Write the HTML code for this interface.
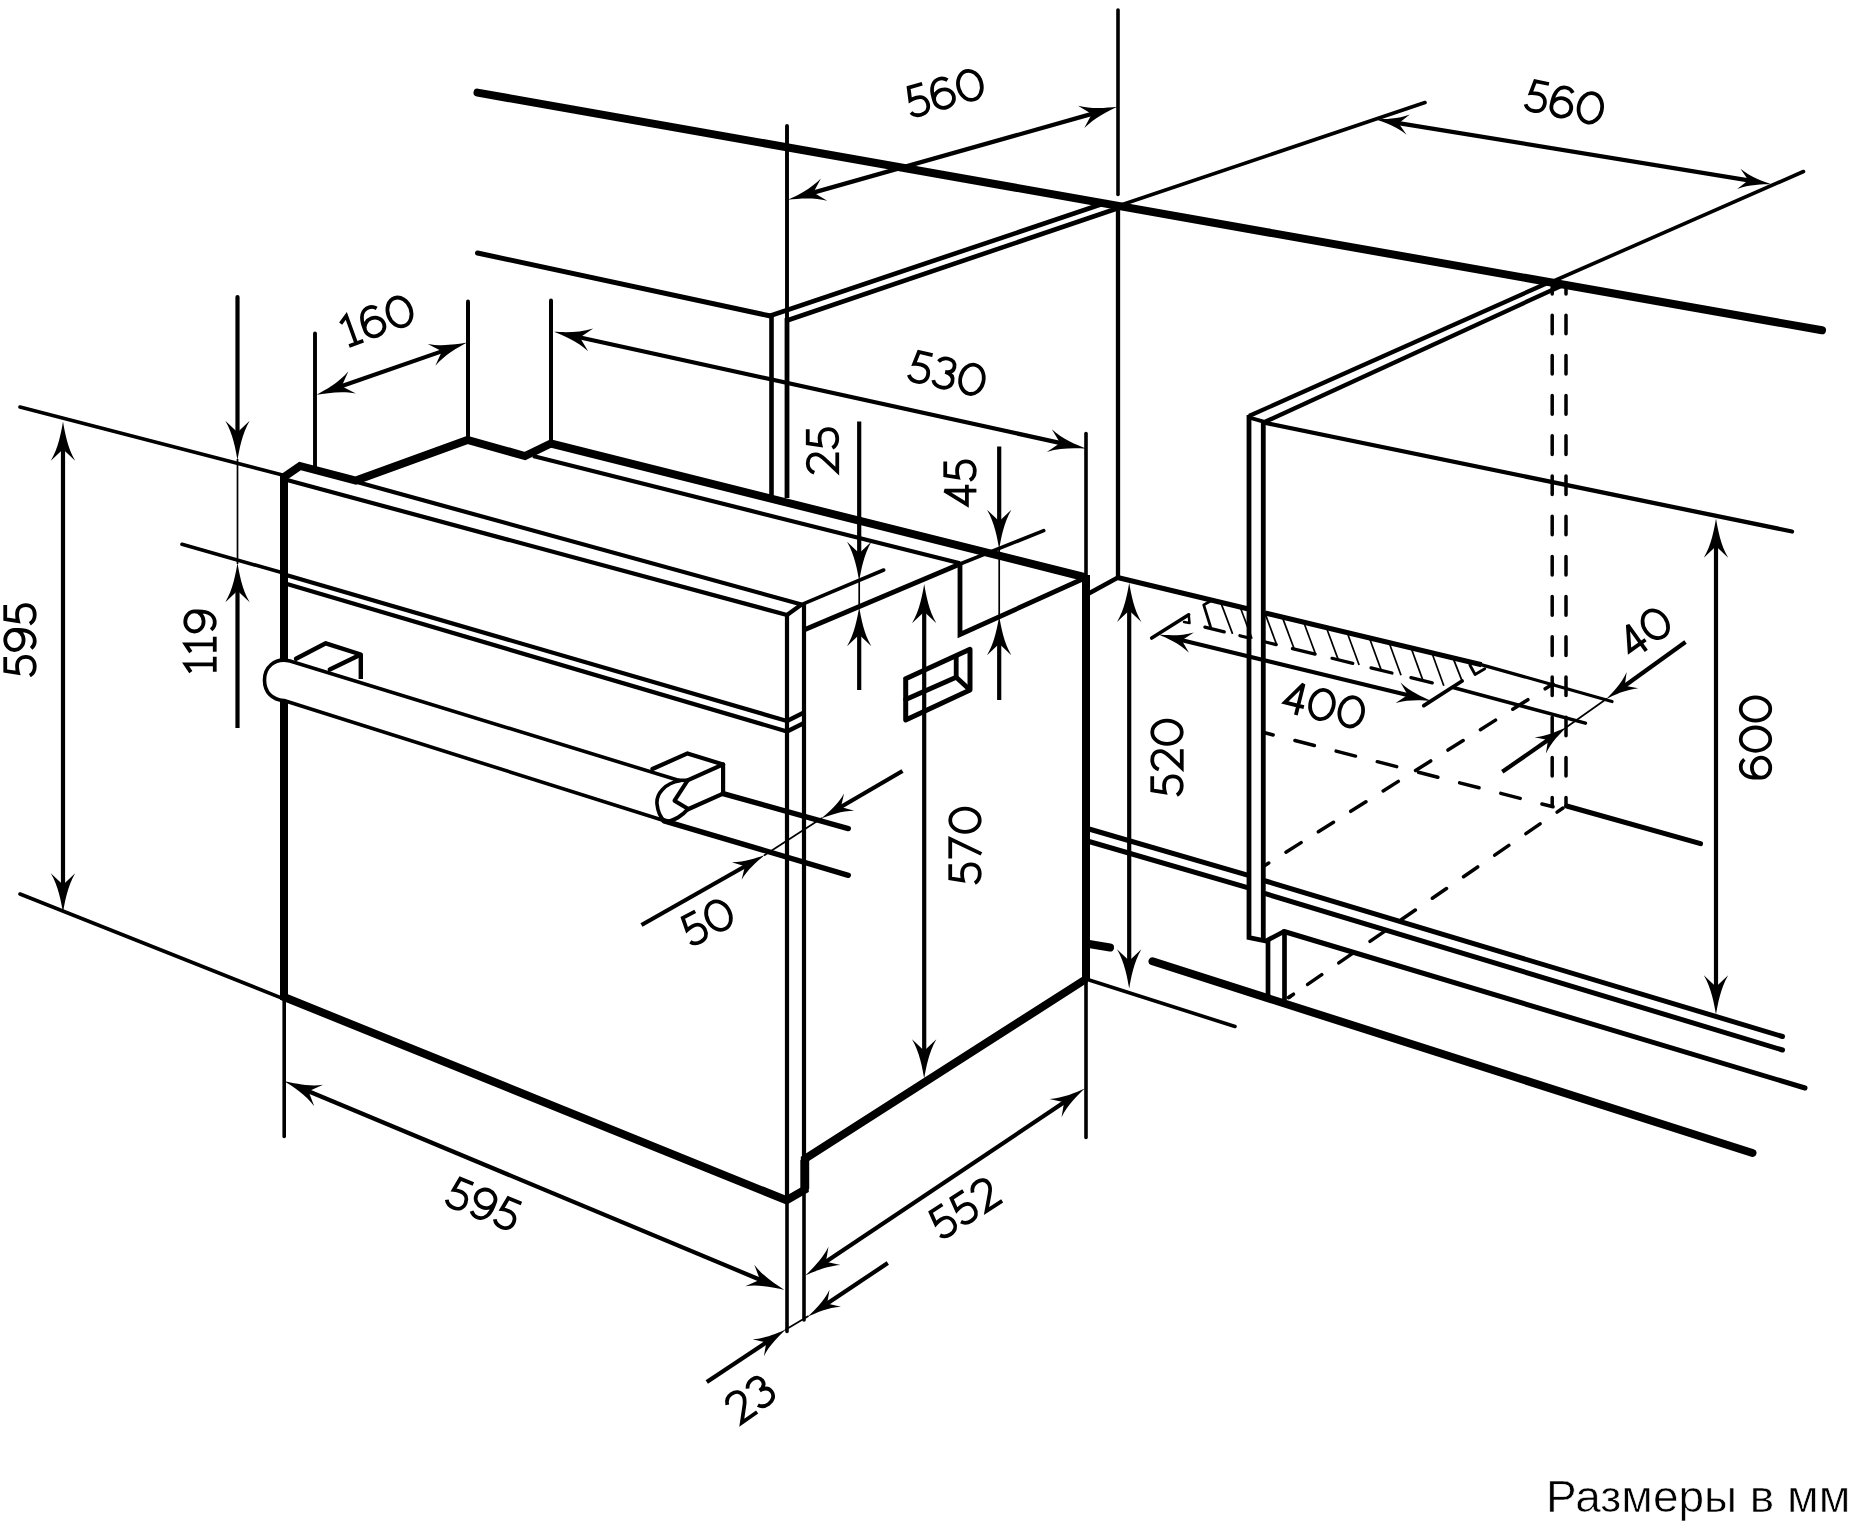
<!DOCTYPE html>
<html lang="ru"><head><meta charset="utf-8"><title>Oven built-in dimensions</title>
<style>
html,body{margin:0;padding:0;background:#fff;}
body{width:1850px;height:1528px;overflow:hidden;font-family:"Liberation Sans",sans-serif;}
svg{display:block}
svg path{fill:none;stroke:#000}
svg path.a{fill:#000;stroke:none}
svg text{font-family:"Liberation Sans",sans-serif;fill:#000;stroke:#fff;stroke-width:0.4px;}
</style></head><body>
<svg width="1850" height="1528" viewBox="0 0 1850 1528">
<rect width="1850" height="1528" fill="#fff"/>
<path d="M477.5,92.6 L1822,330.3" stroke-width="8.0" stroke-linecap="round"/>
<path d="M477.5,253 L769.5,315.8" stroke-width="5" stroke-linecap="round"/>
<path d="M769.5,316 L1108,202" stroke-width="4.6"/>
<path d="M787,320.5 L1117,208.5" stroke-width="4.6"/>
<path d="M771.5,316 L771.5,497" stroke-width="4.6"/>
<path d="M787,126 L787,320" stroke-width="3.9" stroke-linecap="round"/>
<path d="M787,318 L787,498" stroke-width="4.8"/>
<path d="M1118,10 L1118,194.5" stroke-width="3.6" stroke-linecap="round"/>
<path d="M1118,203 L1118,577.5" stroke-width="4.3"/>
<path d="M1118,206 L1425,102.5" stroke-width="3.6" stroke-linecap="round"/>
<path d="M1552.5,281.5 L1803.5,171.5" stroke-width="3.6" stroke-linecap="round"/>
<path d="M1552,281 L1249,416" stroke-width="4.3"/>
<path d="M1561,286 L1263.5,422.5" stroke-width="4.3"/>
<path d="M1249,415 L1249,937.5 L1266,941 L1284,931.5" stroke-width="4.8"/>
<path d="M1263.3,421 L1263.3,941" stroke-width="4.8"/>
<path d="M1248.6,417.3 L1263.5,421.6" stroke-width="3.8"/>
<path d="M1284,931.5 L1805,1088" stroke-width="5" stroke-linecap="round"/>
<path d="M1268,941 L1268,996" stroke-width="4.7"/>
<path d="M1284.5,931 L1284.5,1002.5" stroke-width="4.7"/>
<path d="M1263.5,422.5 L1792,531.5" stroke-width="4.3" stroke-linecap="round"/>
<path d="M1552.2,285 L1552.2,294" stroke-width="3.5" stroke-linecap="round"/>
<path d="M1552.2,315.2 L1552.2,806" stroke-width="3.5" stroke-linecap="round" stroke-dasharray="18.6 21.6"/>
<path d="M1566,285 L1566,294" stroke-width="3.5" stroke-linecap="round"/>
<path d="M1566,315.2 L1566,806" stroke-width="3.5" stroke-linecap="round" stroke-dasharray="18.6 21.6"/>
<path d="M1089,829 L1247.5,875.2" stroke-width="5"/>
<path d="M1089,841.5 L1247.5,887.7" stroke-width="5"/>
<path d="M1265.5,881 L1782.5,1036.5" stroke-width="5" stroke-linecap="round"/>
<path d="M1265.5,893.7 L1782.5,1050" stroke-width="5" stroke-linecap="round"/>
<path d="M1086,595 L1118,577.5" stroke-width="4.3"/>
<path d="M1117.5,577.5 L1247.5,608.7" stroke-width="5.1"/>
<path d="M1265,612.9 L1481.6,664.8" stroke-width="5.1"/>
<path d="M1481,664.6 L1612,701.5" stroke-width="3.2" stroke-linecap="round"/>
<path d="M1086,979 L1235,1026.5" stroke-width="3.6" stroke-linecap="round"/>
<path d="M1086,979 L1086,1137.5" stroke-width="3.6" stroke-linecap="round"/>
<path d="M1086,433.5 L1086,577.5" stroke-width="3.6" stroke-linecap="round"/>
<path d="M1566.7,806 L1700.5,843.7" stroke-width="5" stroke-linecap="round"/>
<path d="M1089,944 L1110,947.5" stroke-width="8.0" stroke-linecap="round"/>
<path d="M1152.5,961.3 L1752.5,1153" stroke-width="8.0" stroke-linecap="round"/>
<path d="M1263.7,732.5 L1553,806.8" stroke-width="3.5" stroke-linecap="round" stroke-dasharray="20 22.5" stroke-dashoffset="10.2"/>
<path d="M1263.7,866.2 L1553,683.9" stroke-width="3.5" stroke-linecap="round" stroke-dasharray="17.9 20.4" stroke-dashoffset="12"/>
<path d="M1288.7,997.5 L1563,808" stroke-width="3.5" stroke-linecap="round" stroke-dasharray="17.2 20.7" stroke-dashoffset="14.9"/>
<path d="M1288.7,997.5 L1293.5,994.2" stroke-width="3.5" stroke-linecap="round"/>
<path d="M1212.4,600 L1203.7,604.9 L1210.5,626.7" stroke-width="2.8" stroke-linecap="round" stroke-linejoin="round"/>
<path d="M1221.1,603.343 L1232.6,633.898" stroke-width="1.7"/>
<path d="M1240.5,607.995 L1252,638.658" stroke-width="1.7"/>
<path d="M1265.2,613.918 L1276.7,644.72" stroke-width="1.7"/>
<path d="M1282.7,618.115 L1294.2,649.014" stroke-width="1.7"/>
<path d="M1304.1,623.247 L1315.6,654.266" stroke-width="1.7"/>
<path d="M1326.8,628.69 L1338.3,659.836" stroke-width="1.7"/>
<path d="M1347.6,633.678 L1359.1,664.941" stroke-width="1.7"/>
<path d="M1369.8,639.002 L1381.3,670.389" stroke-width="1.7"/>
<path d="M1389.5,643.726 L1401,675.223" stroke-width="1.7"/>
<path d="M1411.5,649.001 L1423,680.622" stroke-width="1.7"/>
<path d="M1432.3,653.989 L1443.8,685.726" stroke-width="1.7"/>
<path d="M1453,657.953 L1462.1,681" stroke-width="1.8"/>
<path d="M1204.9,627.1 L1224.3,631.861" stroke-width="3.2" stroke-linecap="round"/>
<path d="M1239.9,635.689 L1247,637.431" stroke-width="3.2" stroke-linecap="round"/>
<path d="M1265.5,641.971 L1276.2,644.597" stroke-width="3.2" stroke-linecap="round"/>
<path d="M1292.4,648.572 L1315.1,654.143" stroke-width="3.2" stroke-linecap="round"/>
<path d="M1332,658.29 L1352.8,663.395" stroke-width="3.2" stroke-linecap="round"/>
<path d="M1371,667.861 L1392,673.014" stroke-width="3.2" stroke-linecap="round"/>
<path d="M1410.9,677.652 L1432.3,682.904" stroke-width="3.2" stroke-linecap="round"/>
<path d="M1469.9,665 L1475.1,674.5 L1484.8,668.7" stroke-width="2.8" stroke-linecap="round" stroke-linejoin="round"/>
<path d="M284,476 L284,997" stroke-width="8.0"/>
<path d="M284,477 L300,466 L355.8,480.6 L467.5,440 L525,456 L551,443.5 L1086,577.5" stroke-width="8.0"/>
<path d="M1086,575 L1086,980" stroke-width="8.0"/>
<path d="M284,995 L284,997 L786.5,1200.3 L804.8,1189.8 L804.8,1159 L1086,979" stroke-width="8.0"/>
<path d="M804.8,1160 L804.8,1189" stroke-width="8.8"/>
<path d="M287,480 L787,615" stroke-width="4.2"/>
<path d="M357,482 L801.5,604.5" stroke-width="4.2"/>
<path d="M787,615 L801.5,604.5" stroke-width="4.2"/>
<path d="M787,614 L787,1200" stroke-width="4.2"/>
<path d="M787,1199 L787,1331.5" stroke-width="3.6" stroke-linecap="round"/>
<path d="M804,604 L804,1192" stroke-width="4.2"/>
<path d="M804,1191 L804,1320" stroke-width="3.6" stroke-linecap="round"/>
<path d="M533,456 L960,563.3" stroke-width="4.2"/>
<path d="M805,629.5 L960,564" stroke-width="5.0"/>
<path d="M960,564 L1043.7,530.7" stroke-width="3.6" stroke-linecap="round"/>
<path d="M802,604.3 L883.7,570" stroke-width="3.6" stroke-linecap="round"/>
<path d="M960,564 L960,634.5 L1086,577.5" stroke-width="4.8"/>
<path d="M287,575.2 L787,721" stroke-width="4.2"/>
<path d="M287,584 L787,731.5" stroke-width="4.2"/>
<path d="M787,721 L803,713" stroke-width="4.2"/>
<path d="M787,731.5 L803,723.5" stroke-width="4.2"/>
<path d="M905.7,678.7 L970,649.3 L970,690 L905.7,720 L905.7,678.7" stroke-width="5" stroke-linecap="round" stroke-linejoin="round"/>
<path d="M905.7,699.5 L956.2,677.3 L956.2,657" stroke-width="4.8" stroke-linecap="round" stroke-linejoin="round"/>
<path d="M956.2,677.3 L970,690" stroke-width="4.8"/>
<path d="M290,661 L680,780.8 C665,783 656,794 657,804 C658,813 661,818 664.5,820.8 L284,700.5 C272,700 264.5,692 264.5,680 C264.5,668 274,657 290,661 Z" stroke-width="3.6" style="fill:#fff" stroke-linejoin="round"/>
<path d="M664.5,820.8 C667,822 673,820.5 678,817.5 C682,815 685,812.5 687.5,809.5" stroke-width="3.8"/>
<path d="M678,780.3 L687.5,780.3" stroke-width="3.6"/>
<path d="M296,658.7 L325.8,643.3 L360.8,654.5 L329.8,669.5" stroke-width="4.4" stroke-linecap="round" stroke-linejoin="round"/>
<path d="M360.8,654.5 L360.8,679" stroke-width="4.4"/>
<path d="M652.4,769 L687.5,753.4 L723.1,764.4 L687.5,780.3" stroke-width="4.2" stroke-linecap="round" stroke-linejoin="round"/>
<path d="M723.1,764.4 L723.1,793.6 L687.5,809.5" stroke-width="4.2" stroke-linecap="round" stroke-linejoin="round"/>
<path d="M687.5,780.6 L674.5,800.7 L687.5,808.5" stroke-width="4" stroke-linecap="round" stroke-linejoin="round"/>
<path d="M723.1,793.6 L848.3,828.6" stroke-width="5.4" stroke-linecap="round"/>
<path d="M664.1,820.8 L848.3,875.3" stroke-width="5.4" stroke-linecap="round"/>
<path d="M20,407 L282.5,475" stroke-width="3.6" stroke-linecap="round"/>
<path d="M182,544.3 L282.5,572.8" stroke-width="3.6" stroke-linecap="round"/>
<path d="M20,894 L282.5,998.3" stroke-width="3.6" stroke-linecap="round"/>
<path d="M315,333.4 L315,467" stroke-width="3.9" stroke-linecap="round"/>
<path d="M468,301.4 L468,439" stroke-width="4.0" stroke-linecap="round"/>
<path d="M551,300.4 L551,441" stroke-width="4.0" stroke-linecap="round"/>
<path d="M284.2,997 L284.2,1136.5" stroke-width="3.6" stroke-linecap="round"/>
<path d="M63,447.175 L63,886.825" stroke-width="4.2"/>
<path transform="translate(63,422.5) rotate(270.00) scale(1.05)" d="M1,0 C-9,-1.7 -24,-4.3 -36.5,-11.6 L-25.5,0 L-36.5,11.6 C-24,4.3 -9,1.7 1,0 Z" class="a"/>
<path transform="translate(63,911.5) rotate(90.00) scale(1.05)" d="M1,0 C-9,-1.7 -24,-4.3 -36.5,-11.6 L-25.5,0 L-36.5,11.6 C-24,4.3 -9,1.7 1,0 Z" class="a"/>
<path d="M237.5,297 L237.5,434.325" stroke-width="4.2" stroke-linecap="round"/>
<path transform="translate(237.5,459) rotate(90.00) scale(1.05)" d="M1,0 C-9,-1.7 -24,-4.3 -36.5,-11.6 L-25.5,0 L-36.5,11.6 C-24,4.3 -9,1.7 1,0 Z" class="a"/>
<path d="M237.5,728 L237.5,588.675" stroke-width="4.2"/>
<path transform="translate(237.5,564) rotate(-90.00) scale(1.05)" d="M1,0 C-9,-1.7 -24,-4.3 -36.5,-11.6 L-25.5,0 L-36.5,11.6 C-24,4.3 -9,1.7 1,0 Z" class="a"/>
<path d="M237.5,459 L237.5,564" stroke-width="1.7"/>
<path d="M339.796,386.782 L443.804,350.618" stroke-width="4.2"/>
<path transform="translate(317.6,394.5) rotate(160.83)" d="M1,0 C-9,-1.7 -24,-4.3 -36.5,-11.6 L-25.5,0 L-36.5,11.6 C-24,4.3 -9,1.7 1,0 Z" class="a"/>
<path transform="translate(466,342.9) rotate(-19.17)" d="M1,0 C-9,-1.7 -24,-4.3 -36.5,-11.6 L-25.5,0 L-36.5,11.6 C-24,4.3 -9,1.7 1,0 Z" class="a"/>
<path d="M577.953,337.041 L1062.05,443.359" stroke-width="4.2"/>
<path transform="translate(555,332) rotate(192.39)" d="M1,0 C-9,-1.7 -24,-4.3 -36.5,-11.6 L-25.5,0 L-36.5,11.6 C-24,4.3 -9,1.7 1,0 Z" class="a"/>
<path transform="translate(1085,448.4) rotate(12.39)" d="M1,0 C-9,-1.7 -24,-4.3 -36.5,-11.6 L-25.5,0 L-36.5,11.6 C-24,4.3 -9,1.7 1,0 Z" class="a"/>
<path d="M811.515,193.111 L1093.69,113.389" stroke-width="4.2"/>
<path transform="translate(788.9,199.5) rotate(164.22)" d="M1,0 C-9,-1.7 -24,-4.3 -36.5,-11.6 L-25.5,0 L-36.5,11.6 C-24,4.3 -9,1.7 1,0 Z" class="a"/>
<path transform="translate(1116.3,107) rotate(-15.78)" d="M1,0 C-9,-1.7 -24,-4.3 -36.5,-11.6 L-25.5,0 L-36.5,11.6 C-24,4.3 -9,1.7 1,0 Z" class="a"/>
<path d="M1396.91,122.841 L1750.09,180.659" stroke-width="4.2"/>
<path transform="translate(1376.5,119.5) rotate(189.30) scale(0.88)" d="M1,0 C-9,-1.7 -24,-4.3 -36.5,-11.6 L-25.5,0 L-36.5,11.6 C-24,4.3 -9,1.7 1,0 Z" class="a"/>
<path transform="translate(1770.5,184) rotate(9.30) scale(0.88)" d="M1,0 C-9,-1.7 -24,-4.3 -36.5,-11.6 L-25.5,0 L-36.5,11.6 C-24,4.3 -9,1.7 1,0 Z" class="a"/>
<path d="M859.2,421.5 L859.2,555.325" stroke-width="4.2"/>
<path transform="translate(859.2,580) rotate(90.00) scale(1.05)" d="M1,0 C-9,-1.7 -24,-4.3 -36.5,-11.6 L-25.5,0 L-36.5,11.6 C-24,4.3 -9,1.7 1,0 Z" class="a"/>
<path d="M859.2,690 L859.2,632.675" stroke-width="4.2"/>
<path transform="translate(859.2,608) rotate(-90.00) scale(1.05)" d="M1,0 C-9,-1.7 -24,-4.3 -36.5,-11.6 L-25.5,0 L-36.5,11.6 C-24,4.3 -9,1.7 1,0 Z" class="a"/>
<path d="M859.2,580 L859.2,607" stroke-width="1.7"/>
<path d="M999.2,446.5 L999.2,523.325" stroke-width="4.2"/>
<path transform="translate(999.2,548) rotate(90.00) scale(1.05)" d="M1,0 C-9,-1.7 -24,-4.3 -36.5,-11.6 L-25.5,0 L-36.5,11.6 C-24,4.3 -9,1.7 1,0 Z" class="a"/>
<path d="M999.2,700 L999.2,641.675" stroke-width="4.2"/>
<path transform="translate(999.2,617) rotate(-90.00) scale(1.05)" d="M1,0 C-9,-1.7 -24,-4.3 -36.5,-11.6 L-25.5,0 L-36.5,11.6 C-24,4.3 -9,1.7 1,0 Z" class="a"/>
<path d="M999.2,548 L999.2,617" stroke-width="1.7"/>
<path d="M924.2,609.675 L924.2,1052.83" stroke-width="4.2"/>
<path transform="translate(924.2,585) rotate(270.00) scale(1.05)" d="M1,0 C-9,-1.7 -24,-4.3 -36.5,-11.6 L-25.5,0 L-36.5,11.6 C-24,4.3 -9,1.7 1,0 Z" class="a"/>
<path transform="translate(924.2,1077.5) rotate(90.00) scale(1.05)" d="M1,0 C-9,-1.7 -24,-4.3 -36.5,-11.6 L-25.5,0 L-36.5,11.6 C-24,4.3 -9,1.7 1,0 Z" class="a"/>
<path d="M1129.2,608.375 L1129.2,962.825" stroke-width="4.2"/>
<path transform="translate(1129.2,583.7) rotate(270.00) scale(1.05)" d="M1,0 C-9,-1.7 -24,-4.3 -36.5,-11.6 L-25.5,0 L-36.5,11.6 C-24,4.3 -9,1.7 1,0 Z" class="a"/>
<path transform="translate(1129.2,987.5) rotate(90.00) scale(1.05)" d="M1,0 C-9,-1.7 -24,-4.3 -36.5,-11.6 L-25.5,0 L-36.5,11.6 C-24,4.3 -9,1.7 1,0 Z" class="a"/>
<path d="M1716,544.175 L1716,988.825" stroke-width="4.2"/>
<path transform="translate(1716,519.5) rotate(270.00) scale(1.05)" d="M1,0 C-9,-1.7 -24,-4.3 -36.5,-11.6 L-25.5,0 L-36.5,11.6 C-24,4.3 -9,1.7 1,0 Z" class="a"/>
<path transform="translate(1716,1013.5) rotate(90.00) scale(1.05)" d="M1,0 C-9,-1.7 -24,-4.3 -36.5,-11.6 L-25.5,0 L-36.5,11.6 C-24,4.3 -9,1.7 1,0 Z" class="a"/>
<path d="M902.5,771 L839.453,807.81" stroke-width="4.2"/>
<path transform="translate(822,818) rotate(149.72) scale(0.86)" d="M1,0 C-9,-1.7 -24,-4.3 -36.5,-11.6 L-25.5,0 L-36.5,11.6 C-24,4.3 -9,1.7 1,0 Z" class="a"/>
<path d="M641.5,925 L746.422,865.473" stroke-width="4.2"/>
<path transform="translate(764,855.5) rotate(-29.57) scale(0.86)" d="M1,0 C-9,-1.7 -24,-4.3 -36.5,-11.6 L-25.5,0 L-36.5,11.6 C-24,4.3 -9,1.7 1,0 Z" class="a"/>
<path d="M822,818 L764,855.5" stroke-width="1.7"/>
<path d="M306.688,1090.55 L761.812,1280.45" stroke-width="4.2"/>
<path transform="translate(285,1081.5) rotate(202.65)" d="M1,0 C-9,-1.7 -24,-4.3 -36.5,-11.6 L-25.5,0 L-36.5,11.6 C-24,4.3 -9,1.7 1,0 Z" class="a"/>
<path transform="translate(783.5,1289.5) rotate(22.65)" d="M1,0 C-9,-1.7 -24,-4.3 -36.5,-11.6 L-25.5,0 L-36.5,11.6 C-24,4.3 -9,1.7 1,0 Z" class="a"/>
<path d="M824.36,1262.72 L1065.64,1101.28" stroke-width="4.2"/>
<path transform="translate(806,1275) rotate(146.21) scale(0.94)" d="M1,0 C-9,-1.7 -24,-4.3 -36.5,-11.6 L-25.5,0 L-36.5,11.6 C-24,4.3 -9,1.7 1,0 Z" class="a"/>
<path transform="translate(1084,1089) rotate(-33.79) scale(0.94)" d="M1,0 C-9,-1.7 -24,-4.3 -36.5,-11.6 L-25.5,0 L-36.5,11.6 C-24,4.3 -9,1.7 1,0 Z" class="a"/>
<path d="M706.8,1382 L767.78,1341.45" stroke-width="4.2"/>
<path transform="translate(785,1330) rotate(-33.62) scale(0.88)" d="M1,0 C-9,-1.7 -24,-4.3 -36.5,-11.6 L-25.5,0 L-36.5,11.6 C-24,4.3 -9,1.7 1,0 Z" class="a"/>
<path d="M887.8,1263 L825.693,1304.51" stroke-width="4.2"/>
<path transform="translate(808.5,1316) rotate(146.24) scale(0.88)" d="M1,0 C-9,-1.7 -24,-4.3 -36.5,-11.6 L-25.5,0 L-36.5,11.6 C-24,4.3 -9,1.7 1,0 Z" class="a"/>
<path d="M785,1330 L808.5,1316" stroke-width="1.7"/>
<path d="M1180.05,639.792 L1409.45,695.508" stroke-width="4.2"/>
<path transform="translate(1159.5,634.8) rotate(193.65) scale(0.9)" d="M1,0 C-9,-1.7 -24,-4.3 -36.5,-11.6 L-25.5,0 L-36.5,11.6 C-24,4.3 -9,1.7 1,0 Z" class="a"/>
<path transform="translate(1430,700.5) rotate(13.65) scale(0.9)" d="M1,0 C-9,-1.7 -24,-4.3 -36.5,-11.6 L-25.5,0 L-36.5,11.6 C-24,4.3 -9,1.7 1,0 Z" class="a"/>
<path d="M1151.7,638.1 L1188.7,614.8" stroke-width="3.5" stroke-linecap="round"/>
<path d="M1188.7,614.8 L1189.5,623 L1184,622" stroke-width="2.5" stroke-linecap="round" stroke-linejoin="round"/>
<path d="M1423.8,705.6 L1462.1,681" stroke-width="3.8" stroke-linecap="round"/>
<path d="M1453,687.5 L1585.4,723.1" stroke-width="3.5" stroke-linecap="round"/>
<path d="M1685.5,642 L1623.4,686.694" stroke-width="4.2"/>
<path transform="translate(1607,698.5) rotate(144.26) scale(0.86)" d="M1,0 C-9,-1.7 -24,-4.3 -36.5,-11.6 L-25.5,0 L-36.5,11.6 C-24,4.3 -9,1.7 1,0 Z" class="a"/>
<path d="M1502.3,771.8 L1549.41,739.039" stroke-width="4.2"/>
<path transform="translate(1566,727.5) rotate(-34.82) scale(0.86)" d="M1,0 C-9,-1.7 -24,-4.3 -36.5,-11.6 L-25.5,0 L-36.5,11.6 C-24,4.3 -9,1.7 1,0 Z" class="a"/>
<path d="M1607,698.5 L1566,727.5" stroke-width="1.7"/>
<text transform="translate(1850.3,1511.6) scale(1.022,1)" font-size="45" text-anchor="end" style="stroke-width:0.6px;filter:grayscale(1)">Размеры в мм</text>
<g transform="translate(20,640) rotate(-90) scale(0.328) translate(-111.5,-50)" stroke-width="11.5"><path transform="translate(0,0)" d="M60,5 L17,5 L11,44 C18,42 25,41 32,41 C50,41 60,52 60,68 C60,84 49,95 31,95 C18,95 8,89 3,80"/><path transform="translate(76,0)" d="M 10,84 C 16,91 23,95 32,95 C 54,95 66,76 66,45 L 66,33 M 66,33 C 66,48.5 52.3,61 35.5,61 C 18.7,61 5,48.5 5,33 C 5,17.5 18.7,5 35.5,5 C 52.3,5 66,17.5 66,33 Z"/><path transform="translate(158,0)" d="M60,5 L17,5 L11,44 C18,42 25,41 32,41 C50,41 60,52 60,68 C60,84 49,95 31,95 C18,95 8,89 3,80"/></g>
<g transform="translate(200,641.5) rotate(-90) scale(0.328) translate(-96.5,-50)" stroke-width="11.5"><path transform="translate(0,0)" d="M3,22 L27,6 L27,95 M4,95 L50,95"/><path transform="translate(61,0)" d="M3,22 L27,6 L27,95 M4,95 L50,95"/><path transform="translate(122,0)" d="M 10,84 C 16,91 23,95 32,95 C 54,95 66,76 66,45 L 66,33 M 66,33 C 66,48.5 52.3,61 35.5,61 C 18.7,61 5,48.5 5,33 C 5,17.5 18.7,5 35.5,5 C 52.3,5 66,17.5 66,33 Z"/></g>
<g transform="translate(377.4,320) rotate(-20) scale(0.328) translate(-112,-50)" stroke-width="11.5"><path transform="translate(0,0)" d="M3,22 L27,6 L27,95 M4,95 L50,95"/><path transform="translate(61,0)" d="M61,16 C55,9 48,5 39,5 C17,5 5,24 5,55 L5,67 M5,67 C5,51.5 18.7,39 35.5,39 C52.3,39 66,51.5 66,67 C66,82.5 52.3,95 35.5,95 C18.7,95 5,82.5 5,67 Z"/><path transform="translate(143,0)" d="M40.5,5 C60,5 76,25 76,50 C76,75 60,95 40.5,95 C21,95 5,75 5,50 C5,25 21,5 40.5,5 Z"/></g>
<g transform="translate(945,92.5) rotate(-16) scale(0.328) translate(-119.5,-50)" stroke-width="11.5"><path transform="translate(0,0)" d="M60,5 L17,5 L11,44 C18,42 25,41 32,41 C50,41 60,52 60,68 C60,84 49,95 31,95 C18,95 8,89 3,80"/><path transform="translate(76,0)" d="M61,16 C55,9 48,5 39,5 C17,5 5,24 5,55 L5,67 M5,67 C5,51.5 18.7,39 35.5,39 C52.3,39 66,51.5 66,67 C66,82.5 52.3,95 35.5,95 C18.7,95 5,82.5 5,67 Z"/><path transform="translate(158,0)" d="M40.5,5 C60,5 76,25 76,50 C76,75 60,95 40.5,95 C21,95 5,75 5,50 C5,25 21,5 40.5,5 Z"/></g>
<g transform="translate(1565,102.5) rotate(12) scale(0.328) translate(-119.5,-50)" stroke-width="11.5"><path transform="translate(0,0)" d="M60,5 L17,5 L11,44 C18,42 25,41 32,41 C50,41 60,52 60,68 C60,84 49,95 31,95 C18,95 8,89 3,80"/><path transform="translate(76,0)" d="M61,16 C55,9 48,5 39,5 C17,5 5,24 5,55 L5,67 M5,67 C5,51.5 18.7,39 35.5,39 C52.3,39 66,51.5 66,67 C66,82.5 52.3,95 35.5,95 C18.7,95 5,82.5 5,67 Z"/><path transform="translate(158,0)" d="M40.5,5 C60,5 76,25 76,50 C76,75 60,95 40.5,95 C21,95 5,75 5,50 C5,25 21,5 40.5,5 Z"/></g>
<g transform="translate(947.5,373.7) rotate(13) scale(0.328) translate(-117,-50)" stroke-width="11.5"><path transform="translate(0,0)" d="M60,5 L17,5 L11,44 C18,42 25,41 32,41 C50,41 60,52 60,68 C60,84 49,95 31,95 C18,95 8,89 3,80"/><path transform="translate(76,0)" d="M6,20 C12,10 22,5 33,5 C48,5 57,13 57,26 C57,37 49,45 33,46 C51,47 61,56 61,70 C61,84 49,95 32,95 C19,95 8,89 3,79"/><path transform="translate(153,0)" d="M40.5,5 C60,5 76,25 76,50 C76,75 60,95 40.5,95 C21,95 5,75 5,50 C5,25 21,5 40.5,5 Z"/></g>
<g transform="translate(822.5,451) rotate(-90) scale(0.328) translate(-71.5,-50)" stroke-width="11.5"><path transform="translate(0,0)" d="M5,25 C10,12 21,5 34,5 C50,5 61,14 61,29 C61,40 55,48 45,58 L10,95 L67,95"/><path transform="translate(78,0)" d="M60,5 L17,5 L11,44 C18,42 25,41 32,41 C50,41 60,52 60,68 C60,84 49,95 31,95 C18,95 8,89 3,80"/></g>
<g transform="translate(960,483.7) rotate(-90) scale(0.328) translate(-73,-50)" stroke-width="11.5"><path transform="translate(0,0)" d="M52,100 L52,3 L10,71 L70,71" stroke-miterlimit="3"/><path transform="translate(81,0)" d="M60,5 L17,5 L11,44 C18,42 25,41 32,41 C50,41 60,52 60,68 C60,84 49,95 31,95 C18,95 8,89 3,80"/></g>
<g transform="translate(965,845.5) rotate(-90) scale(0.328) translate(-117.5,-50)" stroke-width="11.5"><path transform="translate(0,0)" d="M60,5 L17,5 L11,44 C18,42 25,41 32,41 C50,41 60,52 60,68 C60,84 49,95 31,95 C18,95 8,89 3,80"/><path transform="translate(76,0)" d="M2,5 L61,5 L16,100"/><path transform="translate(154,0)" d="M40.5,5 C60,5 76,25 76,50 C76,75 60,95 40.5,95 C21,95 5,75 5,50 C5,25 21,5 40.5,5 Z"/></g>
<g transform="translate(1167,757.5) rotate(-90) scale(0.328) translate(-117.5,-50)" stroke-width="11.5"><path transform="translate(0,0)" d="M60,5 L17,5 L11,44 C18,42 25,41 32,41 C50,41 60,52 60,68 C60,84 49,95 31,95 C18,95 8,89 3,80"/><path transform="translate(76,0)" d="M5,25 C10,12 21,5 34,5 C50,5 61,14 61,29 C61,40 55,48 45,58 L10,95 L67,95"/><path transform="translate(154,0)" d="M40.5,5 C60,5 76,25 76,50 C76,75 60,95 40.5,95 C21,95 5,75 5,50 C5,25 21,5 40.5,5 Z"/></g>
<g transform="translate(1755.5,737.5) rotate(-90) scale(0.328) translate(-127.5,-50)" stroke-width="11.5"><path transform="translate(0,0)" d="M61,16 C55,9 48,5 39,5 C17,5 5,24 5,55 L5,67 M5,67 C5,51.5 18.7,39 35.5,39 C52.3,39 66,51.5 66,67 C66,82.5 52.3,95 35.5,95 C18.7,95 5,82.5 5,67 Z"/><path transform="translate(82,0)" d="M40.5,5 C60,5 76,25 76,50 C76,75 60,95 40.5,95 C21,95 5,75 5,50 C5,25 21,5 40.5,5 Z"/><path transform="translate(174,0)" d="M40.5,5 C60,5 76,25 76,50 C76,75 60,95 40.5,95 C21,95 5,75 5,50 C5,25 21,5 40.5,5 Z"/></g>
<g transform="translate(1323.7,705) rotate(14) scale(0.328) translate(-127,-50)" stroke-width="11.5"><path transform="translate(0,0)" d="M52,100 L52,3 L10,71 L70,71" stroke-miterlimit="3"/><path transform="translate(81,0)" d="M40.5,5 C60,5 76,25 76,50 C76,75 60,95 40.5,95 C21,95 5,75 5,50 C5,25 21,5 40.5,5 Z"/><path transform="translate(173,0)" d="M40.5,5 C60,5 76,25 76,50 C76,75 60,95 40.5,95 C21,95 5,75 5,50 C5,25 21,5 40.5,5 Z"/></g>
<g transform="translate(1644.5,632) rotate(-35.5) scale(0.328) translate(-81,-50)" stroke-width="11.5"><path transform="translate(0,0)" d="M52,100 L52,3 L10,71 L70,71" stroke-miterlimit="3"/><path transform="translate(81,0)" d="M40.5,5 C60,5 76,25 76,50 C76,75 60,95 40.5,95 C21,95 5,75 5,50 C5,25 21,5 40.5,5 Z"/></g>
<g transform="translate(707.5,921.5) rotate(-28) scale(0.328) translate(-78.5,-50)" stroke-width="11.5"><path transform="translate(0,0)" d="M60,5 L17,5 L11,44 C18,42 25,41 32,41 C50,41 60,52 60,68 C60,84 49,95 31,95 C18,95 8,89 3,80"/><path transform="translate(76,0)" d="M40.5,5 C60,5 76,25 76,50 C76,75 60,95 40.5,95 C21,95 5,75 5,50 C5,25 21,5 40.5,5 Z"/></g>
<g transform="translate(483.5,1204) rotate(22) scale(0.328) translate(-111.5,-50)" stroke-width="11.5"><path transform="translate(0,0)" d="M60,5 L17,5 L11,44 C18,42 25,41 32,41 C50,41 60,52 60,68 C60,84 49,95 31,95 C18,95 8,89 3,80"/><path transform="translate(76,0)" d="M 10,84 C 16,91 23,95 32,95 C 54,95 66,76 66,45 L 66,33 M 66,33 C 66,48.5 52.3,61 35.5,61 C 18.7,61 5,48.5 5,33 C 5,17.5 18.7,5 35.5,5 C 52.3,5 66,17.5 66,33 Z"/><path transform="translate(158,0)" d="M60,5 L17,5 L11,44 C18,42 25,41 32,41 C50,41 60,52 60,68 C60,84 49,95 31,95 C18,95 8,89 3,80"/></g>
<g transform="translate(964,1208) rotate(-33) scale(0.328) translate(-109.5,-50)" stroke-width="11.5"><path transform="translate(0,0)" d="M60,5 L17,5 L11,44 C18,42 25,41 32,41 C50,41 60,52 60,68 C60,84 49,95 31,95 C18,95 8,89 3,80"/><path transform="translate(76,0)" d="M60,5 L17,5 L11,44 C18,42 25,41 32,41 C50,41 60,52 60,68 C60,84 49,95 31,95 C18,95 8,89 3,80"/><path transform="translate(152,0)" d="M5,25 C10,12 21,5 34,5 C50,5 61,14 61,29 C61,40 55,48 45,58 L10,95 L67,95"/></g>
<g transform="translate(750,1399) rotate(-35) scale(0.328) translate(-72,-50)" stroke-width="11.5"><path transform="translate(0,0)" d="M5,25 C10,12 21,5 34,5 C50,5 61,14 61,29 C61,40 55,48 45,58 L10,95 L67,95"/><path transform="translate(78,0)" d="M6,20 C12,10 22,5 33,5 C48,5 57,13 57,26 C57,37 49,45 33,46 C51,47 61,56 61,70 C61,84 49,95 32,95 C19,95 8,89 3,79"/></g>
</svg>
</body></html>
